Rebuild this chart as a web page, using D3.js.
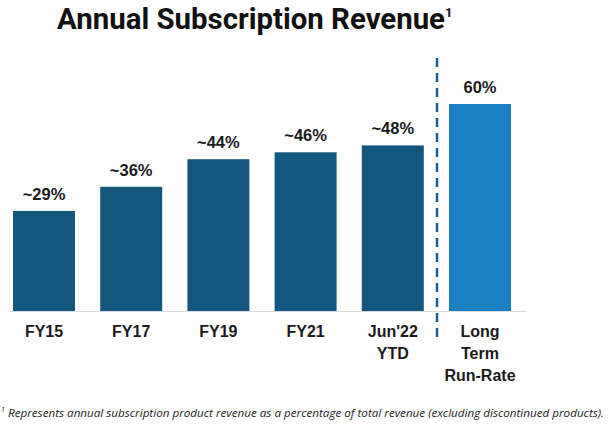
<!DOCTYPE html>
<html><head><meta charset="utf-8">
<script src="https://cdn.jsdelivr.net/npm/d3@7"></script>
<style>body{margin:0;background:#fff}svg{display:block}</style>
</head><body>
<svg id="c" width="610" height="424"></svg>
<script>
const categories = [["FY15"],["FY17"],["FY19"],["FY21"],["Jun'22","YTD"],["Long","Term","Run-Rate"]];
const values = [29,36,44,46,48,60];
const valueLabels = ["~29%","~36%","~44%","~46%","~48%","60%"];
const isTarget = [false,false,false,false,false,true];

const svg = d3.select("#c");
const baseY = 311;
const x = d3.scaleBand().domain(d3.range(categories.length)).range([0.4, 523.6]).paddingInner(0.289).paddingOuter(0.1445);
const y = d3.scaleLinear().domain([0,60]).range([baseY, 104]);

// title
const t = svg.append("text").attr("x",57).attr("y",29)
  .attr("font-family","Roboto, sans-serif").attr("font-weight","bold").attr("font-size",29).attr("fill","#111");
t.append("tspan").text("Annual Subscription Revenue").attr("textLength",388).attr("lengthAdjust","spacingAndGlyphs");
t.append("tspan").text("1").attr("font-size",13).attr("dy",-12);

// axis line
svg.append("line").attr("x1",10).attr("x2",527).attr("y1",baseY+0.5).attr("y2",baseY+0.5)
  .attr("stroke","#d9d9d9").attr("stroke-width",1);

// bars
svg.selectAll("rect.bar").data(values).join("rect").attr("class","bar")
  .attr("x",(d,i)=>x(i)).attr("width",x.bandwidth())
  .attr("y",d=>y(d)).attr("height",d=>baseY-y(d))
  .attr("fill",(d,i)=>isTarget[i]?"#1b80c3":"#13577f");

// value labels
svg.selectAll("text.val").data(values).join("text").attr("class","val")
  .attr("x",(d,i)=>x(i)+x.bandwidth()/2).attr("y",d=>y(d)-11)
  .attr("text-anchor","middle").attr("font-family","Liberation Sans, Arial, sans-serif")
  .attr("font-weight","bold").attr("font-size",16.5).attr("fill","#1a1a1a")
  .text((d,i)=>valueLabels[i]);

// category labels
categories.forEach((lines,i)=>{
  const tx = svg.append("text").attr("text-anchor","middle")
    .attr("font-family","Liberation Sans, Arial, sans-serif").attr("font-weight","bold")
    .attr("font-size",16).attr("fill","#1a1a1a");
  lines.forEach((l,j)=>tx.append("tspan").attr("x",x(i)+x.bandwidth()/2).attr("y",337+j*22).text(l));
});

// dashed separator
svg.append("line").attr("x1",437).attr("x2",437).attr("y1",58).attr("y2",341)
  .attr("stroke","#1a5f8c").attr("stroke-width",2.5).attr("stroke-dasharray","9,6");

// footnote
svg.append("text").attr("x",1).attr("y",412)
  .attr("font-family","Open Sans, sans-serif").attr("font-style","italic").attr("font-size",7).attr("fill","#222").text("1");
svg.append("text").attr("x",8).attr("y",417)
  .attr("font-family","Open Sans, sans-serif").attr("font-style","italic").attr("font-size",11.5).attr("fill","#222")
  .attr("textLength",596).attr("lengthAdjust","spacingAndGlyphs")
  .text("Represents annual subscription product revenue as a percentage of total revenue (excluding discontinued products).");
</script>
</body></html>
